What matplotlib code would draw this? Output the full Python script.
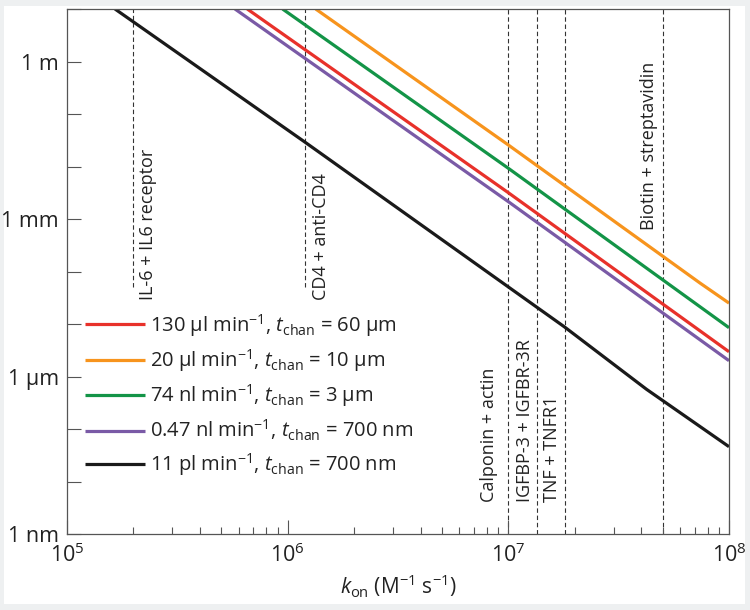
import matplotlib
matplotlib.use('Agg')
import matplotlib.pyplot as plt
from matplotlib.patches import Rectangle
from matplotlib.ticker import LogLocator, FixedLocator, NullFormatter

plt.rcParams['font.family'] = ['Open Sans', 'DejaVu Sans']
plt.rcParams['mathtext.fontset'] = 'custom'
plt.rcParams['mathtext.rm'] = 'Open Sans'
plt.rcParams['mathtext.it'] = 'Open Sans:italic'

# Datos
labels = ['130 µl min$^{-1}$, $t_{\\rm chan}$ = 60 µm',
          '20 µl min$^{-1}$, $t_{\\rm chan}$ = 10 µm',
          '74 nl min$^{-1}$, $t_{\\rm chan}$ = 3 µm',
          '0.47 nl min$^{-1}$, $t_{\\rm chan}$ = 700 nm',
          '11 pl min$^{-1}$, $t_{\\rm chan}$ = 700 nm']
colors = ['#e8312a', '#f7941d', '#139447', '#7a5aa6', '#1a1a1a']

red_x = [6.56e5, 1e7, 1e8]
red_y = [10, 3.17e-3, 2.96e-6]
orange_x = [1.34e6, 1e7, 7.4e7, 1e8]
orange_y = [10, 2.57e-2, 6.0e-5, 2.5e-5]
green_x = [9.48e5, 1e7, 1e8]
green_y = [10, 9.25e-3, 8.5e-6]
purple_x = [5.77e5, 1e7, 1e8]
purple_y = [10, 2.14e-3, 2.0e-6]
black_x = [1.65e5, 1.19e6, 1.79e7, 4.23e7, 1e8]
black_y = [10, 2.97e-2, 8.9e-6, 5.7e-7, 4.6e-8]

# interacciones (constante kon)
inter_names = ['IL-6 + IL6 receptor', 'CD4 + anti-CD4', 'Calponin + actin',
               'IGFBP-3 + IGFBR-3R', 'TNF + TNFR1', 'Biotin + streptavidin']
inter_kon = [2.0e5, 1.2e6, 1.0e7, 1.35e7, 1.8e7, 5.0e7]

ytick_vals = [1e-9, 1e-6, 1e-3, 1e0]
ytick_labels = ['1 nm', '1 µm', '1 mm', '1 m']

fig = plt.figure(figsize=(7.5, 6.1), dpi=100)
fig.patch.set_facecolor('#eef0f1')
fig.patches.append(Rectangle((4/750, 6/610), 741/750, 598/610, transform=fig.transFigure,
                             facecolor='white', edgecolor='none', zorder=-1))
ax = fig.add_axes([67/750, 1 - 534/610, 662/750, 525/610])

series = [(red_x, red_y), (orange_x, orange_y), (green_x, green_y),
          (purple_x, purple_y), (black_x, black_y)]
for (xs, ys), c, lab in zip(series, colors, labels):
    ax.plot(xs, ys, color=c, lw=2.3, label=lab, solid_capstyle='butt')

# lineas discontinuas
for i, k in enumerate(inter_kon):
    top = 5e-5 if i < 2 else 1e-9
    ax.plot([k, k], [top, 10], color='#333333', lw=0.8, ls=(0, (4, 2.5)), zorder=1)

fs = 13
tc = '#222222'
ax.text(2.13e5, 2.9e-5, inter_names[0], rotation=90, ha='left', va='bottom', fontsize=fs, color=tc)
ax.text(1.29e6, 2.9e-5, inter_names[1], rotation=90, ha='left', va='bottom', fontsize=fs, color=tc)
ax.text(9.0e6, 4.1e-9, inter_names[2], rotation=90, ha='right', va='bottom', fontsize=fs, color=tc)
ax.text(1.31e7, 4.1e-9, inter_names[3], rotation=90, ha='right', va='bottom', fontsize=fs, color=tc)
ax.text(1.74e7, 4.1e-9, inter_names[4], rotation=90, ha='right', va='bottom', fontsize=fs, color=tc)
ax.text(4.75e7, 0.98, inter_names[5], rotation=90, ha='right', va='top', fontsize=fs, color=tc)

ax.set_xscale('log')
ax.set_yscale('log')
ax.set_xlim(1e5, 1e8)
ax.set_ylim(1e-9, 10)

ax.yaxis.set_major_locator(FixedLocator(ytick_vals))
ax.set_yticklabels(ytick_labels)
ax.yaxis.set_minor_locator(LogLocator(base=10, subs=(1.0,), numticks=20))
ax.yaxis.set_minor_formatter(NullFormatter())
ax.xaxis.set_minor_locator(LogLocator(base=10, subs=range(2, 10), numticks=20))
ax.xaxis.set_minor_formatter(NullFormatter())

ax.tick_params(which='both', direction='in', color='#555555', width=0.8, labelsize=15.5, labelcolor=tc)
ax.tick_params(axis='y', which='both', length=10, pad=6)
ax.tick_params(axis='x', which='major', length=10, pad=7)
ax.tick_params(axis='x', which='minor', length=5)
ax.tick_params(top=False, right=False)
for s in ax.spines.values():
    s.set_color('#555555')
    s.set_linewidth(0.9)

ax.set_xlabel('$k_{\\rm on}$ (M$^{-1}$ s$^{-1}$)', fontsize=15, color=tc, labelpad=4)

leg = ax.legend(loc='upper left', bbox_to_anchor=(0.006, 0.450), frameon=False, fontsize=14.5,
                handlelength=3.0, handletextpad=0.2, labelspacing=0.42, borderaxespad=0.3)
for t in leg.get_texts():
    t.set_color(tc)

plt.savefig('out.png', dpi=100, facecolor=fig.get_facecolor())
